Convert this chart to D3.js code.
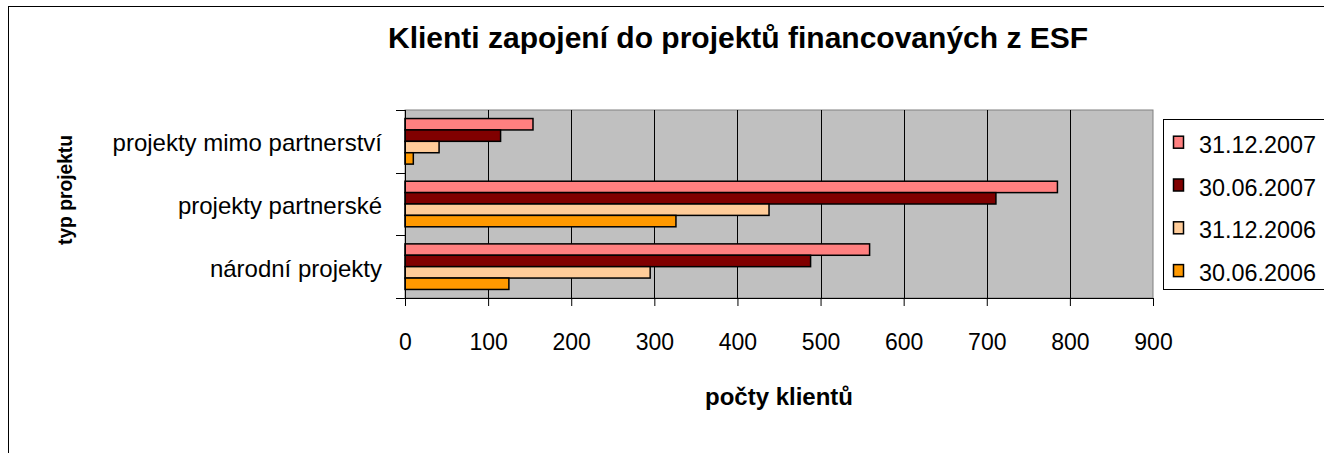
<!DOCTYPE html>
<html>
<head>
<meta charset="utf-8">
<script src="https://d3js.org/d3.v7.min.js"></script>
<style>
  body { margin: 0; background: #fff; }
  svg { display: block; font-family: "Liberation Sans", Arial, sans-serif; }
</style>
</head>
<body>
<svg id="chart"></svg>
<script>
// chart values
const categories = ["projekty mimo partnerství", "projekty partnerské", "národní projekty"];
const seriesNames = ["31.12.2007", "30.06.2007", "31.12.2006", "30.06.2006"];
const dec2007 = [154, 785, 559];
const jun2007 = [115, 711, 488];
const dec2006 = [41, 438, 295];
const jun2006 = [10, 326, 125];
const xTicks = [0, 100, 200, 300, 400, 500, 600, 700, 800, 900];

const seriesValues = [dec2007, jun2007, dec2006, jun2006];
const colors = ["#ff8080", "#800000", "#ffcc99", "#ff9900"];

function createChart() {
    const width = 1324;
    const height = 453;
    const plot = { left: 405, right: 1153, top: 110, bottom: 298 };

    const svg = d3.select('#chart')
                  .attr('width', width)
                  .attr('height', height);

    // outer chart frame (runs off the right and bottom edge)
    svg.append('rect')
        .attr('x', 8.5).attr('y', 6.5)
        .attr('width', 1500).attr('height', 600)
        .attr('fill', '#fff')
        .attr('stroke', '#000');

    const xScale = d3.scaleLinear()
                     .domain([0, 900])
                     .range([plot.left, plot.right]);

    const yScale = d3.scaleBand()
                     .domain(categories)
                     .range([plot.top, plot.bottom])
                     .padding(0);

    const inner = d3.scaleBand()
                    .domain(seriesNames)
                    .range([0, yScale.bandwidth()])
                    .paddingInner(0)
                    .paddingOuter(0.75);

    // plot background
    svg.append('rect')
        .attr('x', plot.left).attr('y', plot.top)
        .attr('width', plot.right - plot.left)
        .attr('height', plot.bottom - plot.top)
        .attr('fill', '#c0c0c0')
        .attr('stroke', '#808080');

    // gridlines
    svg.append('g')
        .selectAll('line')
        .data(xTicks.filter(d => d > 0 && d < 900))
        .enter()
        .append('line')
        .attr('x1', d => Math.round(xScale(d)) + 0.5)
        .attr('x2', d => Math.round(xScale(d)) + 0.5)
        .attr('y1', plot.top)
        .attr('y2', plot.bottom)
        .attr('stroke', '#000');

    // bars
    categories.forEach((cat, ci) => {
        seriesNames.forEach((s, si) => {
            svg.append('rect')
                .attr('x', xScale(0))
                .attr('y', yScale(cat) + inner(s))
                .attr('width', xScale(seriesValues[si][ci]) - xScale(0))
                .attr('height', inner.bandwidth())
                .attr('fill', colors[si])
                .attr('stroke', '#000')
                .attr('stroke-width', 1.5);
        });
    });

    // x axis
    const xAxis = svg.append('g')
        .attr('transform', `translate(0, ${plot.bottom})`)
        .call(d3.axisBottom(xScale).tickValues(xTicks).tickSize(8).tickPadding(28).tickSizeOuter(0));
    xAxis.select('.domain').attr('stroke', '#000');
    xAxis.selectAll('.tick line').attr('stroke', '#000');
    xAxis.selectAll('text')
        .style('font-size', '23px')
        .style('font-family', '"Liberation Sans", Arial, sans-serif')
        .attr('fill', '#000');

    // y axis: labels centred on bands, ticks on band borders
    const yAxis = svg.append('g')
        .attr('transform', `translate(${plot.left}, 0)`)
        .call(d3.axisLeft(yScale).tickSize(0).tickPadding(23));
    yAxis.select('.domain').remove();
    yAxis.selectAll('text')
        .attr('dy', '0.42em')
        .style('font-size', '24px')
        .style('font-family', '"Liberation Sans", Arial, sans-serif')
        .attr('fill', '#000');

    const borders = categories.map(c => yScale(c)).concat([plot.bottom]);
    svg.append('g')
        .selectAll('line')
        .data(borders)
        .enter()
        .append('line')
        .attr('x1', plot.left - 9)
        .attr('x2', plot.left)
        .attr('y1', d => Math.round(d) + 0.5)
        .attr('y2', d => Math.round(d) + 0.5)
        .attr('stroke', '#000');

    svg.append('line')
        .attr('x1', plot.left + 0.5).attr('x2', plot.left + 0.5)
        .attr('y1', plot.top).attr('y2', plot.bottom)
        .attr('stroke', '#000');

    // titles
    svg.append('text')
        .attr('x', 388)
        .attr('y', 48)
        .text('Klienti zapojení do projektů financovaných z ESF')
        .style('font-size', '30px')
        .style('font-weight', 'bold');

    svg.append('text')
        .attr('x', (plot.left + plot.right) / 2)
        .attr('y', 405)
        .attr('text-anchor', 'middle')
        .text('počty klientů')
        .style('font-size', '24px')
        .style('font-weight', 'bold');

    svg.append('text')
        .attr('transform', 'translate(72, 190) rotate(-90)')
        .attr('text-anchor', 'middle')
        .attr('textLength', 110)
        .attr('lengthAdjust', 'spacingAndGlyphs')
        .text('typ projektu')
        .style('font-size', '20px')
        .style('font-weight', 'bold');

    // legend
    const legend = svg.append('g');
    legend.append('rect')
        .attr('x', 1163.5).attr('y', 119.5)
        .attr('width', 300).attr('height', 170)
        .attr('fill', '#fff')
        .attr('stroke', '#000');

    seriesNames.forEach((s, i) => {
        const base = 152.7 + i * 42.8;
        legend.append('rect')
            .attr('x', 1173.5)
            .attr('y', base - 16.5)
            .attr('width', 10)
            .attr('height', 12)
            .attr('fill', colors[i])
            .attr('stroke', '#000')
            .attr('stroke-width', 1.5);
        legend.append('text')
            .attr('x', 1199)
            .attr('y', base)
            .text(s)
            .style('font-size', '23.4px');
    });
}

createChart();
</script>
</body>
</html>
